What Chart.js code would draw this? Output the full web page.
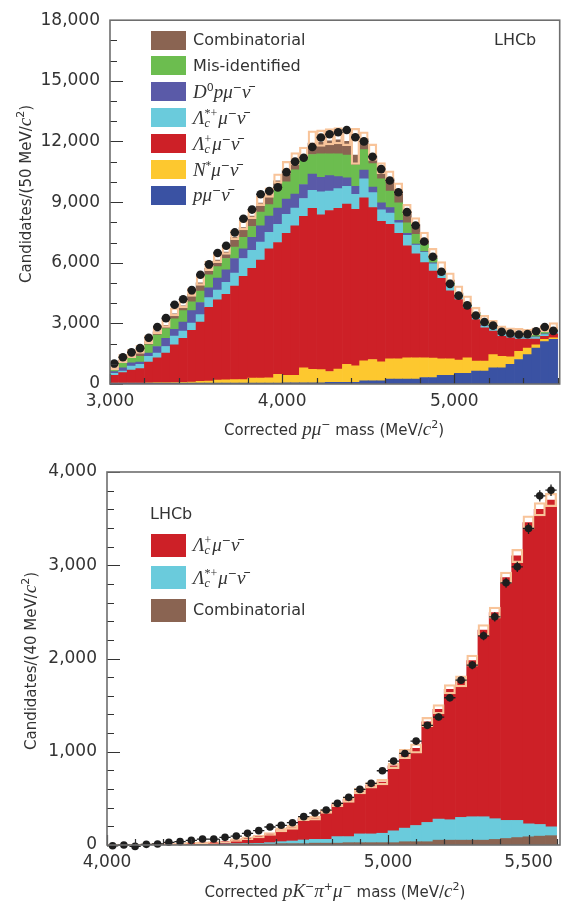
<!DOCTYPE html>
<html>
<head>
<meta charset="utf-8">
<script src="https://cdn.jsdelivr.net/npm/chart.js@4.4.1/dist/chart.umd.min.js"></script>
<style>
  body { margin: 0; background: #fff; }
  #wrap { position: relative; width: 564px; height: 904px; overflow: hidden;
          font-family: 'DejaVu Sans', sans-serif; color: #333; }
  canvas { position: absolute; left: 0; }
  .lbl { position: absolute; white-space: nowrap; font-size: 16px; line-height: 20px; }
  .ctr { transform: translate(-50%, -50%); }
  .rot { transform: translate(-50%, -50%) rotate(-90deg); }
  .sw { position: absolute; }
  .m { font-family: 'Liberation Serif', serif; font-style: italic; font-size: 19px; }
  sup { font-size: 11px; line-height: 0; vertical-align: 7px; }
  .ss { display: inline-flex; flex-direction: column; font-family: 'Liberation Serif', serif;
        font-size: 12px; line-height: 10px; vertical-align: 7px; margin-right: 1px; }
  .ss span:last-child { font-style: italic; }
</style>
</head>
<body>
<div id="wrap">
  <canvas id="topChart" width="564" height="440" style="top:0"></canvas>
  <canvas id="botChart" width="564" height="454" style="top:450px"></canvas>
</div>
<script>
// ---- top panel: corrected p mu mass, 50 MeV bins from 3000 ----
const TOP_START = 3000, TOP_BIN = 50;
const topXTicks = [3000, 4000, 5000];
const topYTicks = [0, 3000, 6000, 9000, 12000, 15000, 18000];
const topPMuNu = [40,40,40,40,40,40,40,40,40,40, 40,40,40,40,40,40,40,40,40,40,
  60,60,60,60,60, 80,80,80,80, 161,161,161, 242,242,242,242, 323,323, 435,435,
  532,532, 645,645, 806,806, 968,1210,1452,1774,2097,2210];
const topNstar = [10,10,10,10,15,30,30,35,40,50, 90,100,160,170,175,180,250,250,260,444,
  375,375,746,666,650, 540,660,888,820, 989,1049,939, 998,1008,1048,1058, 967,957, 815,805,
  648,758, 485,495, 646,565, 372,403,322,161,113,80];
const topLcMuNu = [385,515,644,708,1026,1220,1462,1861,2178,2571, 2935,3650,3962,4226,4624,5103,5436,5839,6394,6516,
  7015,7388,7487,7970,7663,7963,7956,7938,7748,8062, 7518,6950,6660,6200,5551,5138,4712,4303,3978,3375,
  3000,2454,2060,1640,1168,984,940,607,446,285, 150,190];
const topLcStar = [97,80,193,210,290,242,323,435,355,355, 371,484,483,597,645,887,887,888,806,900,
  950,877,887,887,1130,968,968,871,742,936, 742,565,554,520,516,435,516,367,162,215,
  100,86,70,80,80,85,50,70,60,80, 80,80];
const topD0 = [81,161,161,113,161,323,403,339,452,613, 597,484,597,612,726,484,646,806,807,800,
  750,700,693,807,726,758,597,419,387,435, 275,355,274,129,97,49,33,40,50,40,
  30,30,40,40,40,40,40,40,40,30, 40,40];
const topMisId = [113,242,252,290,404,565,484,516,564,436, 564,646,565,565,565,565,532,678,565,897,
  851,1200,1243,967,1161,1081,1129,1129,1064,1016, 1161,1178,823,871,516,484,349,210,110,120,
  80,70,170,165,83,100,98,90,51,122, 101,94];
const topComb = [81,113,103,242,161,161,161,242,242,371, 403,322,322,323,484,483,516,451,483,452,
  564,400,161,565,580,645,693,678,484,533, 371,403,597,581,565,483,264,157,162,157,
  112,88,80,80,80,50,64,80,81,80, 80,97];
const topData = [1016,1323,1565,1774,2290,2823,3258,3920,4194,4645, 5404,5920,6484,6839,7500,8178,8630,9388,9549,9727,
  10485,11001,11196,11728,12196,12357,12454,12567,12212,12003, 11245,10632,10067,9486,8502,7841,7051,6293,5551,4954,
  4373,3889,3387,3065,2887,2581,2500,2452,2468,2613, 2823,2629];
const topFitErr = [300,300,300,300,300,300,300,300,300,300, 350,350,350,350,350,350,350,350,350,350,
  450,450,450,600,600,600,600,600,1320,350, 600,400,400,400,350,350,350,350,350,350,
  350,350,250,250,250,250,250,250,250,250, 250,250];

// ---- bottom panel: corrected pK pi mu mass, 40 MeV bins from 4000 ----
const BOT_START = 4000, BOT_BIN = 40;
const botXTicks = [4000, 4500, 5000, 5500];
const botYTicks = [0, 1000, 2000, 3000, 4000];
const botComb = [2,2,2,2,2,2,2, 5,5,5,5, 10,10,10,10, 15,15,15, 20,20,20,
  25,25,25,25,25, 35,35,35, 52,52,52,52,52, 60,70,80,88,95,100];
const botLcStar = [0,0,0,0,0,0,0,0,0,0, 6,4,6,8,15,21,28,39,41,41,
  70,65,94,94,101,127,146,174,207,226, 219,244,251,251,222,194,184,139,125,95];
const botLcMuNu = [1,2,3,4,6,8,10,13,19,23, 25,40,56,72,94,126,145,228,228,300,
  343,397,459,520,549,696,794,827,1078,1177, 1399,1459,1675,2001,2210,2604,2836,3231,3380,3505];
const botData = [-8,0,-15,7,11,29,36,50,64,64, 82,96,125,154,193,211,239,304,343,375,
  446,511,596,661,796,900,982,1114,1283,1372, 1579,1768,1929,2243,2447,2812,2983,3394,3744,3805];
const botFitErr = [6,6,6,6,6,6,6, 10,10,10,10, 15,15,15,15, 22,22,22,22,22,22,
  30,30,30,30,30, 50,50,50,50,50, 60,60,60,60,60, 72,72,72,72];

const COL = {
  comb: '#8a6452', misid: '#6cbd4f', d0: '#5a5aa8', lcstar: '#6acbdc',
  lc: '#cd2027', nstar: '#fdc82f', pmunu: '#3a52a3', box: '#f8c49a', dot: '#1e1e1e'
};

function centres(start, width, n) {
  return Array.from({length: n}, (_, i) => start + width * (i + 0.5));
}
function pts(xs, vals) { return vals.map((v, i) => ({x: xs[i], y: v})); }
function totals(layers) { return layers[0].map((_, i) => layers.reduce((s, l) => s + l[i], 0)); }

// inward ticks + frame, drawn on top of the bars
const frameTicks = {
  id: 'frameTicks',
  afterDraw(chart, args, o) {
    const {ctx, chartArea: a, scales: {x, y}} = chart;
    ctx.save();
    ctx.strokeStyle = '#333';
    ctx.lineWidth = 1.2;
    ctx.beginPath();
    for (let v = o.xStart; v <= o.xEnd; v += o.xMinor) {
      const px = Math.round(x.getPixelForValue(v)) + 0.5;
      const len = (v - o.xStart) % o.xMajor === 0 ? o.xMajLen : o.xMinLen;
      ctx.moveTo(px, a.bottom); ctx.lineTo(px, a.bottom - len);
    }
    for (let v = 0; v <= y.max; v += o.yMinor) {
      const py = Math.round(y.getPixelForValue(v)) + 0.5;
      const len = v % o.yMajor === 0 ? o.yMajLen : o.yMinLen;
      ctx.moveTo(a.left, py); ctx.lineTo(a.left + len, py);
    }
    ctx.stroke();
    ctx.strokeStyle = '#6e6e6e';
    ctx.lineWidth = 1.6;
    ctx.strokeRect(a.left, a.top, a.right - a.left, a.bottom - a.top);
    ctx.restore();
  }
};

// data error bars: bin width across, sqrt(N) up and down
const errorBars = {
  id: 'errorBars',
  afterDatasetsDraw(chart, args, o) {
    const {ctx, scales: {x}} = chart;
    const meta = chart.getDatasetMeta(0);
    const yb = chart.scales.yb;
    const ds = chart.data.datasets[0];
    ctx.save();
    ctx.strokeStyle = COL.dot;
    ctx.lineWidth = 1.3;
    ctx.beginPath();
    meta.data.forEach((el, i) => {
      const p = ds.data[i];
      const half = x.getPixelForValue(p.x + o.bin / 2) - el.x;
      const err = Math.sqrt(Math.max(Math.abs(p.y), 1));
      ctx.moveTo(el.x - half, el.y); ctx.lineTo(el.x + half, el.y);
      ctx.moveTo(el.x, yb.getPixelForValue(p.y - err)); ctx.lineTo(el.x, yb.getPixelForValue(p.y + err));
    });
    ctx.stroke();
    ctx.restore();
  }
};

function makePanel(id, p) {
  const xs = centres(p.start, p.bin, p.data.length);
  const tot = totals(p.layers.map(l => l.data));
  const datasets = [
    {type: 'line', data: pts(xs, p.data), yAxisID: 'yb', showLine: false, clip: false,
     pointRadius: p.dotR, pointBackgroundColor: COL.dot, pointBorderWidth: 0, order: 0},
    {type: 'bar', data: xs.map((c, i) => ({x: c, y: [tot[i] - p.lowFrac * p.err[i], tot[i] + p.err[i]]})),
     yAxisID: 'yb', grouped: false, backgroundColor: 'rgba(0,0,0,0)', borderColor: COL.box,
     borderWidth: 1.6, borderSkipped: false, order: 1}
  ];
  p.layers.forEach((l, k) => {
    datasets.push({type: 'bar', data: pts(xs, l.data), yAxisID: 'y', backgroundColor: l.color,
                   borderWidth: 0, order: 2 + k});
  });
  const tickFont = {family: 'DejaVu Sans', size: 17};
  const fmt = v => v.toLocaleString('en-US');
  return new Chart(document.getElementById(id), {
    type: 'bar',
    data: {datasets},
    plugins: [frameTicks, errorBars],
    options: {
      responsive: false,
      animation: false,
      events: [],
      layout: {padding: {top: p.padTop, right: 1, left: 0, bottom: 0}},
      datasets: {bar: {barPercentage: 1, categoryPercentage: 1}},
      scales: {
        x: {type: 'linear', min: p.start, max: p.xMax, offset: false, stacked: true,
            grid: {display: false, drawTicks: false}, border: {display: false},
            ticks: {font: tickFont, color: '#333', padding: 7, maxRotation: 0, autoSkip: false, callback: fmt},
            afterBuildTicks: s => { s.ticks = p.xTicks.map(v => ({value: v})); },
            afterFit: s => { s.height = p.xAxisH; }},
        y: {min: 0, max: p.yMax, stacked: true,
            grid: {display: false, drawTicks: false}, border: {display: false},
            ticks: {font: tickFont, color: '#333', padding: 10, callback: fmt},
            afterBuildTicks: s => { s.ticks = p.yTicks.map(v => ({value: v})); },
            afterFit: s => { s.width = p.yAxisW; }},
        yb: {display: false, min: 0, max: p.yMax, stacked: false}
      },
      plugins: {
        legend: {display: false},
        tooltip: {enabled: false},
        frameTicks: {xStart: p.start, xEnd: p.xLast, xMinor: p.xMinor, xMajor: p.xMajor,
                     yMinor: p.yMinor, yMajor: p.yMajor,
                     xMajLen: 10, xMinLen: 6, yMajLen: 13, yMinLen: 7},
        errorBars: {bin: p.bin}
      }
    }
  });
}

makePanel('topChart', {
  start: TOP_START, bin: TOP_BIN, xMax: 5612, xLast: 5600, xMajor: 1000, xMinor: 200,
  yMax: 18000, yMajor: 3000, yMinor: 1000, padTop: 13, xAxisH: 56, yAxisW: 110,
  xTicks: topXTicks, yTicks: topYTicks,
  data: topData, err: topFitErr, lowFrac: 0.35, dotR: 4.3,
  layers: [
    {data: topPMuNu, color: COL.pmunu},
    {data: topNstar, color: COL.nstar},
    {data: topLcMuNu, color: COL.lc},
    {data: topLcStar, color: COL.lcstar},
    {data: topD0, color: COL.d0},
    {data: topMisId, color: COL.misid},
    {data: topComb, color: COL.comb}
  ]
});

makePanel('botChart', {
  start: BOT_START, bin: BOT_BIN, xMax: 5612, xLast: 5600, xMajor: 500, xMinor: 100,
  yMax: 4000, yMajor: 1000, yMinor: 200, padTop: 22, xAxisH: 59, yAxisW: 107,
  xTicks: botXTicks, yTicks: botYTicks,
  data: botData, err: botFitErr, lowFrac: 1, dotR: 3.8,
  layers: [
    {data: botComb, color: COL.comb},
    {data: botLcStar, color: COL.lcstar},
    {data: botLcMuNu, color: COL.lc}
  ]
});

// ---- text overlays: legends, labels, axis titles ----
const nu = '<span class="m">ν̄</span>';
const muMinus = '<span class="m">μ</span><sup>−</sup>';
const lcPlus = '<span class="m">Λ</span><span class="ss"><span>+</span><span>c</span></span>';
const lcStar = '<span class="m">Λ</span><span class="ss"><span>*+</span><span>c</span></span>';

const topLegend = [
  [COL.comb, 'Combinatorial'],
  [COL.misid, 'Mis-identified'],
  [COL.d0, '<span class="m">D</span><sup>0</sup><span class="m">p</span>' + muMinus + nu],
  [COL.lcstar, lcStar + muMinus + nu],
  [COL.lc, lcPlus + muMinus + nu],
  [COL.nstar, '<span class="m">N</span><sup>*</sup>' + muMinus + nu],
  [COL.pmunu, '<span class="m">p</span>' + muMinus + nu]
];
const botLegend = [
  [COL.lc, lcPlus + muMinus + nu],
  [COL.lcstar, lcStar + muMinus + nu],
  [COL.comb, 'Combinatorial']
];

const wrap = document.getElementById('wrap');
function addDiv(cls, html, css) {
  const d = document.createElement('div');
  d.className = cls;
  d.innerHTML = html;
  Object.assign(d.style, css);
  wrap.appendChild(d);
  return d;
}
function legend(rows, y0, dy, swH) {
  rows.forEach((r, i) => {
    const yc = y0 + i * dy;
    addDiv('sw', '', {left: '151px', top: (yc - swH / 2) + 'px', width: '35px', height: swH + 'px', background: r[0]});
    addDiv('lbl', r[1], {left: '193px', top: (yc - 10) + 'px'});
  });
}
legend(topLegend, 40, 25.9, 19);
legend(botLegend, 545, 32.7, 23);

addDiv('lbl', 'LHCb', {left: '494px', top: '30px'});
addDiv('lbl', 'LHCb', {left: '150px', top: '504px'});

addDiv('lbl rot', 'Candidates/(50 MeV/<span class="m">c</span><sup>2</sup>)', {left: '25px', top: '194px', fontSize: '15px'});
addDiv('lbl rot', 'Candidates/(40 MeV/<span class="m">c</span><sup>2</sup>)', {left: '30px', top: '661px', fontSize: '15px'});
addDiv('lbl ctr', 'Corrected <span class="m">pμ</span><sup>−</sup> mass (MeV/<span class="m">c</span><sup>2</sup>)',
  {left: '334px', top: '429px', fontSize: '15px'});
addDiv('lbl ctr', 'Corrected <span class="m">pK</span><sup>−</sup><span class="m">π</span><sup>+</sup><span class="m">μ</span><sup>−</sup> mass (MeV/<span class="m">c</span><sup>2</sup>)',
  {left: '335px', top: '891px', fontSize: '15px'});
</script>
</body>
</html>
